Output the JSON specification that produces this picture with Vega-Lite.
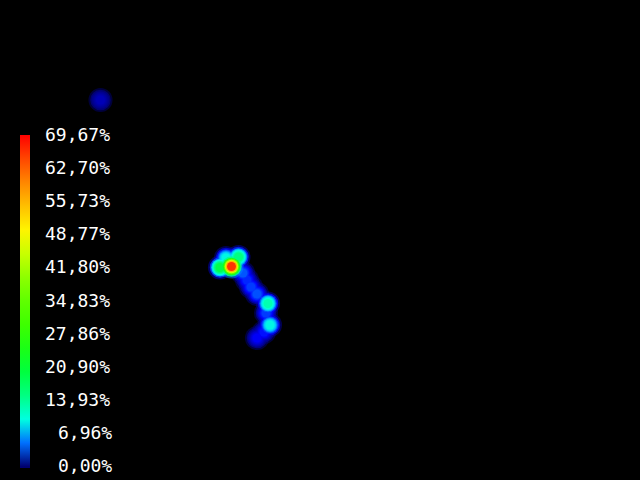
{
  "$schema": "https://vega.github.io/schema/vega-lite/v6.json",
  "width": 640,
  "height": 480,
  "autosize": {"type": "fit", "contains": "padding"},
  "padding": 0,
  "background": "black",
  "config": {"view": {"stroke": null, "fill": "black"}},
  "data": {
    "values": [
      {"x": 231.5, "y": 266.5, "q": 0.08, "v": 5.57},
      {"x": 231.5, "y": 266.5, "q": 0.2, "v": 13.93},
      {"x": 231.5, "y": 266.5, "q": 0.35, "v": 24.38},
      {"x": 231.5, "y": 266.5, "q": 0.5, "v": 34.84},
      {"x": 231.5, "y": 266.5, "q": 0.65, "v": 45.29},
      {"x": 231.5, "y": 266.5, "q": 0.8, "v": 55.74},
      {"x": 231.5, "y": 266.5, "q": 0.95, "v": 66.19},
      {"x": 220, "y": 267.5, "q": 0.08, "v": 1.6},
      {"x": 220, "y": 267.5, "q": 0.2, "v": 4},
      {"x": 220, "y": 267.5, "q": 0.35, "v": 7},
      {"x": 220, "y": 267.5, "q": 0.5, "v": 10},
      {"x": 220, "y": 267.5, "q": 0.65, "v": 13},
      {"x": 220, "y": 267.5, "q": 0.8, "v": 16},
      {"x": 220, "y": 267.5, "q": 0.95, "v": 19},
      {"x": 238.5, "y": 257, "q": 0.08, "v": 1.28},
      {"x": 238.5, "y": 257, "q": 0.2, "v": 3.2},
      {"x": 238.5, "y": 257, "q": 0.35, "v": 5.6},
      {"x": 238.5, "y": 257, "q": 0.5, "v": 8},
      {"x": 238.5, "y": 257, "q": 0.65, "v": 10.4},
      {"x": 238.5, "y": 257, "q": 0.8, "v": 12.8},
      {"x": 238.5, "y": 257, "q": 0.95, "v": 15.2},
      {"x": 226, "y": 258, "q": 0.08, "v": 0.8},
      {"x": 226, "y": 258, "q": 0.2, "v": 2},
      {"x": 226, "y": 258, "q": 0.35, "v": 3.5},
      {"x": 226, "y": 258, "q": 0.5, "v": 5},
      {"x": 226, "y": 258, "q": 0.65, "v": 6.5},
      {"x": 226, "y": 258, "q": 0.8, "v": 8},
      {"x": 226, "y": 258, "q": 0.95, "v": 9.5},
      {"x": 243, "y": 273, "q": 0.08, "v": 0.36},
      {"x": 243, "y": 273, "q": 0.2, "v": 0.9},
      {"x": 243, "y": 273, "q": 0.35, "v": 1.58},
      {"x": 243, "y": 273, "q": 0.5, "v": 2.25},
      {"x": 243, "y": 273, "q": 0.65, "v": 2.93},
      {"x": 243, "y": 273, "q": 0.8, "v": 3.6},
      {"x": 243, "y": 273, "q": 0.95, "v": 4.4},
      {"x": 247, "y": 280, "q": 0.08, "v": 0.28},
      {"x": 247, "y": 280, "q": 0.2, "v": 0.7},
      {"x": 247, "y": 280, "q": 0.35, "v": 1.23},
      {"x": 247, "y": 280, "q": 0.5, "v": 1.75},
      {"x": 247, "y": 280, "q": 0.65, "v": 2.28},
      {"x": 247, "y": 280, "q": 0.8, "v": 2.8},
      {"x": 247, "y": 280, "q": 0.95, "v": 3.33},
      {"x": 251, "y": 287, "q": 0.08, "v": 0.32},
      {"x": 251, "y": 287, "q": 0.2, "v": 0.8},
      {"x": 251, "y": 287, "q": 0.35, "v": 1.4},
      {"x": 251, "y": 287, "q": 0.5, "v": 2},
      {"x": 251, "y": 287, "q": 0.65, "v": 2.6},
      {"x": 251, "y": 287, "q": 0.8, "v": 3.2},
      {"x": 251, "y": 287, "q": 0.95, "v": 3.8},
      {"x": 257, "y": 294, "q": 0.08, "v": 0.36},
      {"x": 257, "y": 294, "q": 0.2, "v": 0.9},
      {"x": 257, "y": 294, "q": 0.35, "v": 1.58},
      {"x": 257, "y": 294, "q": 0.5, "v": 2.25},
      {"x": 257, "y": 294, "q": 0.65, "v": 2.93},
      {"x": 257, "y": 294, "q": 0.8, "v": 3.6},
      {"x": 257, "y": 294, "q": 0.95, "v": 4.28},
      {"x": 268, "y": 303.5, "q": 0.08, "v": 1.04},
      {"x": 268, "y": 303.5, "q": 0.2, "v": 2.6},
      {"x": 268, "y": 303.5, "q": 0.35, "v": 4.55},
      {"x": 268, "y": 303.5, "q": 0.5, "v": 6.5},
      {"x": 268, "y": 303.5, "q": 0.65, "v": 8.45},
      {"x": 268, "y": 303.5, "q": 0.8, "v": 10.4},
      {"x": 268, "y": 303.5, "q": 0.95, "v": 12.35},
      {"x": 266, "y": 313, "q": 0.08, "v": 0.32},
      {"x": 266, "y": 313, "q": 0.2, "v": 0.8},
      {"x": 266, "y": 313, "q": 0.35, "v": 1.4},
      {"x": 266, "y": 313, "q": 0.5, "v": 2},
      {"x": 266, "y": 313, "q": 0.65, "v": 2.6},
      {"x": 266, "y": 313, "q": 0.8, "v": 3.2},
      {"x": 266, "y": 313, "q": 0.95, "v": 3.8},
      {"x": 270, "y": 325, "q": 0.08, "v": 0.8},
      {"x": 270, "y": 325, "q": 0.2, "v": 2},
      {"x": 270, "y": 325, "q": 0.35, "v": 3.5},
      {"x": 270, "y": 325, "q": 0.5, "v": 5},
      {"x": 270, "y": 325, "q": 0.65, "v": 6.5},
      {"x": 270, "y": 325, "q": 0.8, "v": 8},
      {"x": 270, "y": 325, "q": 0.95, "v": 9.5},
      {"x": 264, "y": 332, "q": 0.08, "v": 0.24},
      {"x": 264, "y": 332, "q": 0.2, "v": 0.6},
      {"x": 264, "y": 332, "q": 0.35, "v": 1.05},
      {"x": 264, "y": 332, "q": 0.5, "v": 1.5},
      {"x": 264, "y": 332, "q": 0.65, "v": 1.95},
      {"x": 264, "y": 332, "q": 0.8, "v": 2.4},
      {"x": 264, "y": 332, "q": 0.95, "v": 2.85},
      {"x": 257, "y": 338, "q": 0.08, "v": 0.2},
      {"x": 257, "y": 338, "q": 0.2, "v": 0.5},
      {"x": 257, "y": 338, "q": 0.35, "v": 0.88},
      {"x": 257, "y": 338, "q": 0.5, "v": 1.25},
      {"x": 257, "y": 338, "q": 0.65, "v": 1.63},
      {"x": 257, "y": 338, "q": 0.8, "v": 2},
      {"x": 257, "y": 338, "q": 0.95, "v": 2.38},
      {"x": 100.5, "y": 100, "q": 0.08, "v": 0.1},
      {"x": 100.5, "y": 100, "q": 0.2, "v": 0.26},
      {"x": 100.5, "y": 100, "q": 0.35, "v": 0.46},
      {"x": 100.5, "y": 100, "q": 0.5, "v": 0.65},
      {"x": 100.5, "y": 100, "q": 0.65, "v": 0.85},
      {"x": 100.5, "y": 100, "q": 0.8, "v": 1.04},
      {"x": 100.5, "y": 100, "q": 0.95, "v": 1.24}
    ]
  },
  "mark": {"type": "point", "shape": "circle", "filled": true, "strokeWidth": 0, "opacity": 1},
  "encoding": {
    "x": {"field": "x", "type": "quantitative", "axis": null, "scale": {"domain": [0, 640], "nice": false, "zero": false}},
    "y": {"field": "y", "type": "quantitative", "axis": null, "scale": {"domain": [0, 480], "nice": false, "zero": false, "reverse": true}},
    "order": {"field": "v", "type": "quantitative"},
    "size": {"field": "q", "type": "quantitative", "legend": null,
      "scale": {"domain": [0.08, 0.2, 0.35, 0.5, 0.65, 0.8, 0.95], "range": [580, 420, 310, 235, 180, 130, 80]}},
    "opacity": {"field": "q", "type": "quantitative", "legend": null,
      "scale": {"domain": [0.08, 0.2, 0.35], "range": [0.5, 0.85, 1], "clamp": true}},
    "color": {"field": "v", "type": "quantitative",
      "scale": {"domain": [-0.3, 0, 2.5, 5, 7, 10, 14, 21, 28, 35, 42, 49, 56, 63, 69.67, 69.97],
        "range": ["#000070", "#000070", "#0000ff", "#0070ff", "#00c8ff", "#00ffe0", "#00ff90", "#00ff30", "#30ff00", "#60ff00", "#a0ff00", "#ffff00", "#ffb400", "#ff6400", "#ff0000", "#ff0000"],
        "interpolate": "rgb"},
      "legend": {"orient": "none", "legendX": 20, "legendY": 135, "direction": "vertical",
        "gradientLength": 333, "gradientThickness": 10, "gradientStrokeWidth": 0,
        "title": null, "padding": 0,
        "values": [0, 6.96, 13.93, 20.9, 27.86, 34.83, 41.8, 48.77, 55.73, 62.7, 69.67],
        "labelExpr": "(datum.value < 10 ? '\u2800' : '') + replace(format(datum.value, '.2f'), '.', ',') + '%'",
        "labelColor": "white", "labelFont": "DejaVu Sans Mono", "labelFontSize": 18,
        "labelOffset": 15, "labelOverlap": false}
    }
  }
}
